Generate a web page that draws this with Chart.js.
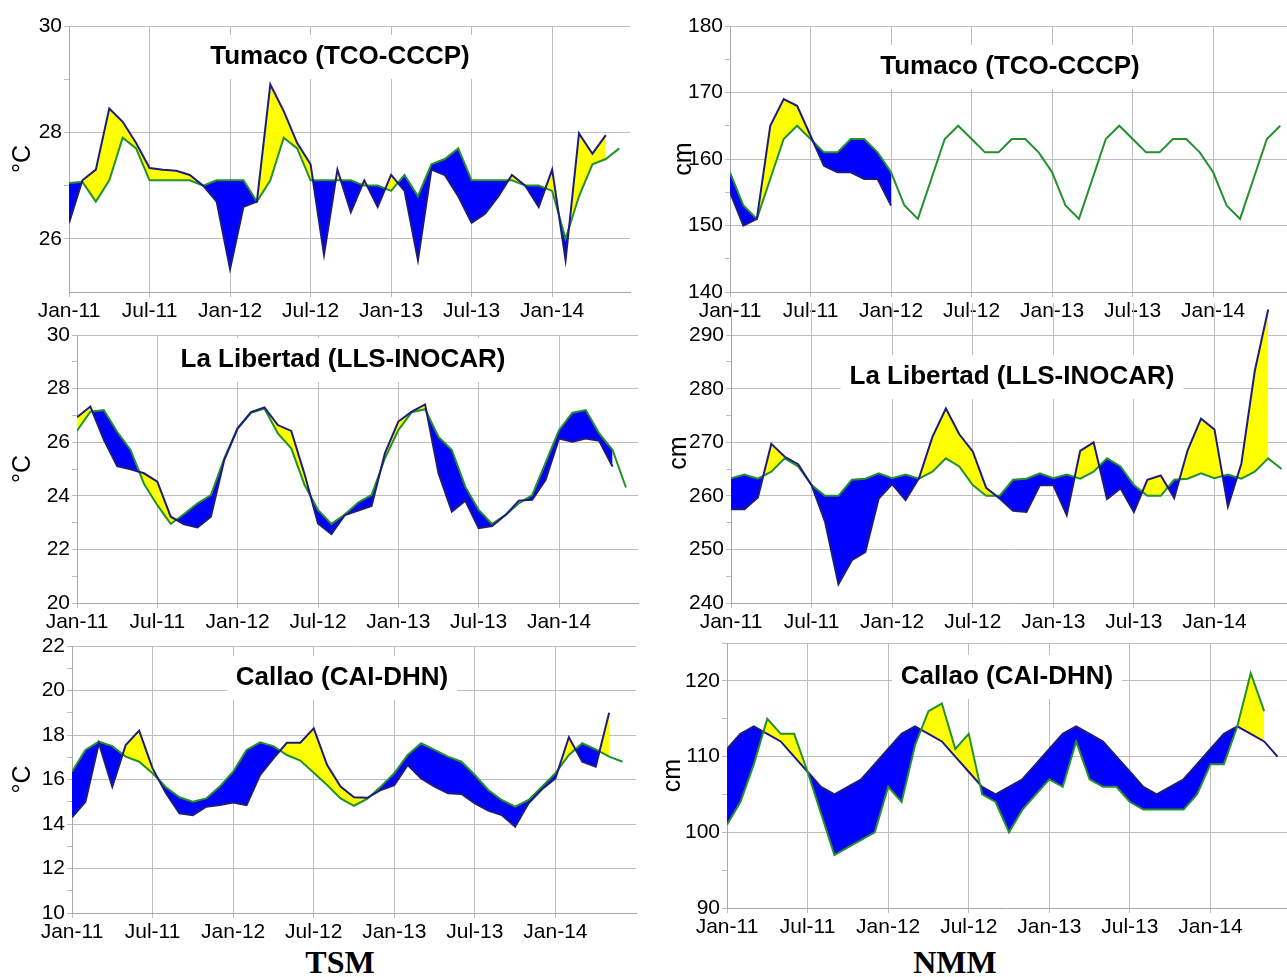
<!DOCTYPE html>
<html>
<head>
<meta charset="utf-8">
<script src="https://cdn.jsdelivr.net/npm/chart.js@4.4.0/dist/chart.umd.min.js"></script>
<style>
  body { margin: 0; background: #fff; width: 1287px; height: 977px; overflow: hidden; position: relative; }
  .panel { position: absolute; }
  .foot { position: absolute; top: 962px; transform: translate(-50%, -50%); line-height: 1;
          font: bold 32px "Liberation Serif", "Times New Roman", serif; color: #000; }
</style>
</head>
<body>
<div class="foot" style="left:340px">TSM</div>
<div class="foot" style="left:955px">NMM</div>
<script>
// months counted from Jan-11 (0) to Jun-14 (41)
const tickMonths = [0, 6, 12, 18, 24, 30, 36];
const tickLabels = ['Jan-11', 'Jul-11', 'Jan-12', 'Jul-12', 'Jan-13', 'Jul-13', 'Jan-14'];

// TSM Tumaco (°C)
const tsmTumacoObs = [26.3, 27.1, 27.3, 28.45, 28.2, 27.8, 27.33, 27.3, 27.28, 27.2, 27.0, 26.7, 25.43, 26.6, 26.7,
  28.9, 28.4, 27.8, 27.4, 25.7, 27.3, 26.5, 27.1, 26.6, 27.2, 26.9, 25.6, 27.3, 27.2, 26.8, 26.3, 26.47, 26.8,
  27.2, 27.0, 26.6, 27.3, 25.6, 27.98, 27.6, 27.95];
const tsmTumacoClim = [27.05, 27.07, 26.7, 27.1, 27.9, 27.7, 27.1, 27.1, 27.1, 27.1, 27.0, 27.1, 27.1, 27.1, 26.7,
  27.1, 27.9, 27.7, 27.1, 27.1, 27.1, 27.1, 27.0, 27.0, 26.9, 27.2, 26.8, 27.4, 27.5, 27.7, 27.1, 27.1, 27.1,
  27.1, 27.0, 27.0, 26.9, 26.0, 26.8, 27.4, 27.5, 27.7];

// NMM Tumaco (cm)
const nmmTumacoObs = [155, 150, 151, 165, 169, 168, 163.5, 159, 158, 158, 157, 157, 153];
const nmmTumacoClim = [158, 153, 151, 157, 163, 165, 163, 161, 161, 163, 163, 161,
  158, 153, 151, 157, 163, 165, 163, 161, 161, 163, 163, 161,
  158, 153, 151, 157, 163, 165, 163, 161, 161, 163, 163, 161,
  158, 153, 151, 157, 163, 165];

// TSM La Libertad (°C)
const tsmLibertadObs = [26.93, 27.33, 26.1, 25.11, 24.99, 24.84, 24.53, 23.22, 22.94, 22.82, 23.22, 25.34, 26.52,
  27.12, 27.3, 26.64, 26.42, 24.8, 22.97, 22.57, 23.28, 23.45, 23.62, 25.59, 26.77, 27.14, 27.41, 24.84, 23.41,
  23.82, 22.79, 22.87, 23.28, 23.82, 23.85, 24.6, 26.14, 26.02, 26.14, 26.05, 25.09];
const tsmLibertadClim = [26.43, 27.14, 27.2, 26.39, 25.71, 24.45, 23.65, 22.95, 23.32, 23.72, 24.03, 25.4, 26.52,
  27.1, 27.26, 26.33, 25.77, 24.4, 23.47, 22.95, 23.3, 23.75, 24.03, 25.4, 26.45, 27.12, 27.23, 26.2, 25.71,
  24.34, 23.47, 22.95, 23.28, 23.72, 24.03, 25.24, 26.45, 27.1, 27.2, 26.33, 25.71, 24.31];

// NMM La Libertad (cm)
const nmmLibertadObs = [257.5, 257.5, 259.7, 269.7, 267.3, 265.9, 262, 255.2, 243.5, 248, 249.5, 259.5, 262.2,
  259.2, 263.3, 271, 276.3, 271.5, 268.3, 261.5, 259.5, 257.2, 257, 262, 262, 256.4, 268.4, 270, 259.4, 261.4,
  257, 263, 263.8, 259.6, 268.5, 274.4, 272.4, 258, 266, 283.3, 294.8];
const nmmLibertadClim = [263.3, 264, 263.2, 264.5, 267, 265.5, 262, 260, 260, 263, 263.2, 264.2,
  263.3, 264, 263.2, 264.5, 267, 265.5, 262, 260, 260, 263, 263.2, 264.2,
  263.3, 264, 263.2, 264.5, 267, 265.5, 262, 260, 260, 263, 263.2, 264.2,
  263.3, 264, 263.2, 264.5, 267, 265];

// TSM Callao (°C)
const tsmCallaoObs = [14.3, 15.0, 17.63, 15.68, 17.55, 18.2, 16.5, 15.38, 14.48, 14.4, 14.78, 14.85, 14.96, 14.85,
  16.2, 16.95, 17.65, 17.65, 18.3, 16.65, 15.68, 15.2, 15.18, 15.53, 15.75, 16.65, 16.05, 15.68, 15.38, 15.35,
  14.93, 14.6, 14.4, 13.88, 14.93, 15.56, 16.05, 17.9, 16.8, 16.58, 19.0];
const tsmCallaoClim = [16.35, 17.33, 17.7, 17.5, 17.03, 16.8, 16.28, 15.65, 15.2, 15.0, 15.15, 15.68, 16.35, 17.33,
  17.67, 17.5, 17.1, 16.85, 16.3, 15.75, 15.15, 14.82, 15.14, 15.68, 16.28, 17.1, 17.63, 17.33, 17.03, 16.8,
  16.2, 15.53, 15.08, 14.78, 15.08, 15.68, 16.28, 17.1, 17.63, 17.35, 17.03, 16.8];

// NMM Callao (cm)
const nmmCallaoObs = [101, 104, 109, 115, 113, 113, 108, 102.5, 97, 98, 99, 100, 106, 104, 111.5, 116, 117, 111,
  113, 105, 104, 100, 103, 105, 107, 106, 112, 107, 106, 106, 104, 103, 103, 103, 103, 105, 109, 109, 114, 121, 116];
const nmmCallaoClim = [111, 113, 114, 113, 112, 110, 108, 106, 105, 106, 107, 109,
  111, 113, 114, 113, 112, 110, 108, 106, 105, 106, 107, 109,
  111, 113, 114, 113, 112, 110, 108, 106, 105, 106, 107, 109,
  111, 113, 114, 113, 112, 110];

const NAVY = '#1c1c7e';
const GREEN = '#23902a';
const ABOVE = '#ffff00';
const BELOW = '#0000ff';
const GRID = '#bdbdbd';
const FONT = '"Liberation Sans", Arial, sans-serif';
const PAD_TOP = 16;
const X_H = 40;

// white box with the station name, inside the plot
const titleBox = {
  id: 'titleBox',
  beforeDatasetsDraw(chart, args, opts) {
    const ctx = chart.ctx;
    ctx.save();
    ctx.font = 'bold 26px ' + FONT;
    const w = ctx.measureText(opts.text).width;
    ctx.fillStyle = '#fff';
    ctx.fillRect(opts.x - w / 2 - 9, opts.y - 22, w + 18, 44);
    ctx.fillStyle = '#000';
    ctx.textAlign = 'center';
    ctx.textBaseline = 'middle';
    ctx.fillText(opts.text, opts.x, opts.y);
    ctx.restore();
  }
};

const pts = arr => arr.map((v, i) => ({ x: i, y: v }));

function panel(p) {
  const boxTop = p.t - PAD_TOP;
  const div = document.createElement('div');
  div.className = 'panel';
  div.style.left = p.boxLeft + 'px';
  div.style.top = boxTop + 'px';
  div.style.width = (p.r - p.boxLeft + p.padR) + 'px';
  div.style.height = (p.b - p.t + PAD_TOP + X_H) + 'px';
  const canvas = document.createElement('canvas');
  div.appendChild(canvas);
  document.body.appendChild(div);

  const isMajor = v => v % p.labelStep === 0 || v === p.yMax;

  new Chart(canvas, {
    type: 'line',
    data: {
      datasets: [
        {
          data: pts(p.obs),
          borderColor: p.obsColor,
          borderWidth: 2,
          pointRadius: 0,
          tension: 0,
          fill: { target: 1, above: ABOVE, below: BELOW }
        },
        {
          data: pts(p.clim),
          borderColor: p.climColor,
          borderWidth: 2,
          pointRadius: 0,
          tension: 0,
          fill: false
        }
      ]
    },
    options: {
      responsive: true,
      maintainAspectRatio: false,
      animation: false,
      events: [],
      layout: { padding: { top: PAD_TOP, right: p.padR, left: 0, bottom: 0 } },
      scales: {
        x: {
          type: 'linear',
          min: 0,
          max: p.xMax,
          afterBuildTicks: s => { s.ticks = tickMonths.map(v => ({ value: v })); },
          afterFit: s => { s.height = X_H; },
          ticks: {
            autoSkip: false,
            maxRotation: 0,
            color: '#000',
            font: { family: FONT, size: 21 },
            padding: 2,
            callback: v => tickLabels[tickMonths.indexOf(v)]
          },
          grid: { color: GRID, tickLength: 5 },
          border: { color: '#a8a8a8' }
        },
        y: {
          min: p.yMin,
          max: p.yMax,
          afterBuildTicks: s => { s.ticks = p.yTicks.map(v => ({ value: v })); },
          afterFit: s => { s.width = p.l - p.boxLeft; },
          ticks: {
            autoSkip: false,
            color: '#000',
            font: { family: FONT, size: 21 },
            padding: 2,
            callback: v => (v % p.labelStep === 0 ? String(v) : '')
          },
          grid: {
            color: c => (c.tick && isMajor(c.tick.value) && c.tick.value !== p.yMin ? GRID : 'rgba(0,0,0,0)'),
            tickColor: GRID,
            tickLength: 5
          },
          border: { color: '#a8a8a8' },
          title: {
            display: true,
            text: p.unit,
            color: '#000',
            font: { family: FONT, size: 25 },
            padding: { top: 4, bottom: 0 }
          }
        }
      },
      plugins: {
        legend: { display: false },
        tooltip: { enabled: false },
        filler: { propagate: false, drawTime: 'beforeDatasetsDraw' },
        titleBox: { text: p.title, x: p.titleX - p.boxLeft, y: p.titleY - boxTop }
      }
    },
    plugins: [titleBox]
  });
}

panel({
  obs: tsmTumacoObs, clim: tsmTumacoClim, obsColor: NAVY, climColor: GREEN,
  title: 'Tumaco (TCO-CCCP)', titleX: 340, titleY: 57, unit: '°C',
  l: 69, t: 26, r: 630, b: 292, boxLeft: 4, padR: 10, xMax: 41.8,
  yMin: 25, yMax: 30, yTicks: [26, 27, 28, 29, 30], labelStep: 2
});
panel({
  obs: nmmTumacoObs, clim: nmmTumacoClim, obsColor: NAVY, climColor: GREEN,
  title: 'Tumaco (TCO-CCCP)', titleX: 1010, titleY: 67, unit: 'cm',
  l: 730, t: 26, r: 1287, b: 292, boxLeft: 665, padR: 0, xMax: 41.5,
  yMin: 140, yMax: 180, yTicks: [140, 145, 150, 155, 160, 165, 170, 175, 180], labelStep: 10
});
panel({
  obs: tsmLibertadObs, clim: tsmLibertadClim, obsColor: NAVY, climColor: GREEN,
  title: 'La Libertad (LLS-INOCAR)', titleX: 343, titleY: 360, unit: '°C',
  l: 77, t: 335, r: 638, b: 603, boxLeft: 4, padR: 10, xMax: 41.9,
  yMin: 20, yMax: 30, yTicks: [20, 21, 22, 23, 24, 25, 26, 27, 28, 29, 30], labelStep: 2
});
panel({
  obs: nmmLibertadObs, clim: nmmLibertadClim, obsColor: NAVY, climColor: GREEN,
  title: 'La Libertad (LLS-INOCAR)', titleX: 1012, titleY: 377, unit: 'cm',
  l: 731, t: 303, r: 1287, b: 603, boxLeft: 660, padR: 0, xMax: 41.4,
  yMin: 240, yMax: 296, yTicks: [240, 245, 250, 255, 260, 265, 270, 275, 280, 285, 290], labelStep: 10
});
panel({
  obs: tsmCallaoObs, clim: tsmCallaoClim, obsColor: NAVY, climColor: GREEN,
  title: 'Callao (CAI-DHN)', titleX: 342, titleY: 678, unit: '°C',
  l: 72, t: 646, r: 636, b: 913, boxLeft: 4, padR: 10, xMax: 42,
  yMin: 10, yMax: 22, yTicks: [10, 11, 12, 13, 14, 15, 16, 17, 18, 19, 20, 21, 22], labelStep: 2
});
panel({
  obs: nmmCallaoObs, clim: nmmCallaoClim, obsColor: GREEN, climColor: NAVY,
  title: 'Callao (CAI-DHN)', titleX: 1007, titleY: 677, unit: 'cm',
  l: 727, t: 643, r: 1287, b: 908, boxLeft: 654, padR: 0, xMax: 41.7,
  yMin: 90, yMax: 125, yTicks: [90, 95, 100, 105, 110, 115, 120, 125], labelStep: 10
});
</script>
</body>
</html>
